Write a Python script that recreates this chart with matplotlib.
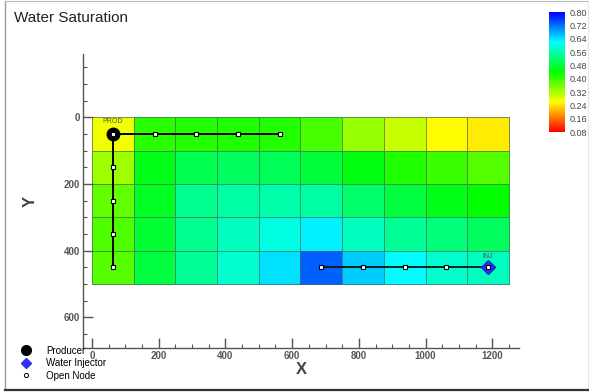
import numpy as np
import matplotlib
matplotlib.use("Agg")
import matplotlib.pyplot as plt
from matplotlib.colors import LinearSegmentedColormap
from matplotlib.lines import Line2D

# ---- data ----
x_edges = [0, 125, 250, 375, 500, 625, 750, 875, 1000, 1125, 1250]
y_edges = [0, 100, 200, 300, 400, 500]
sw = [
    [0.27, 0.41, 0.415, 0.42, 0.415, 0.39, 0.335, 0.30, 0.26, 0.246],
    [0.33, 0.455, 0.495, 0.505, 0.50, 0.48, 0.45, 0.42, 0.40, 0.38],
    [0.37, 0.465, 0.54, 0.555, 0.56, 0.555, 0.515, 0.485, 0.455, 0.44],
    [0.385, 0.475, 0.54, 0.575, 0.60, 0.63, 0.575, 0.545, 0.525, 0.505],
    [0.38, 0.485, 0.545, 0.585, 0.64, 0.73, 0.655, 0.62, 0.585, 0.575],
]
vmin, vmax = 0.08, 0.80
cbar_ticks = [0.08, 0.16, 0.24, 0.32, 0.40, 0.48, 0.56, 0.64, 0.72, 0.80]

prod_xy = (62.5, 50)
prod_h_nodes_x = [187.5, 312.5, 437.5, 562.5]
prod_v_nodes_y = [150, 250, 350, 450]
inj_xy = (1187.5, 450)
inj_nodes_x = [687.5, 812.5, 937.5, 1062.5]

x_ticks = [0, 200, 400, 600, 800, 1000, 1200]
y_ticks = [0, 200, 400, 600]

cmap = LinearSegmentedColormap.from_list(
    "rb", [(1, 0, 0), (1, 1, 0), (0, 1, 0), (0, 1, 1), (0, 0, 1)])

fig = plt.figure(figsize=(5.89, 3.92), dpi=100)
fig.patch.set_facecolor("white")

ax = fig.add_axes([83/589, 1-348/392, (519-83)/589, (348-54)/392])
mesh = ax.pcolormesh(x_edges, y_edges, np.array(sw), cmap=cmap, vmin=vmin, vmax=vmax,
                     edgecolors=(0.3, 0.4, 0.35, 0.7), linewidth=0.6)
ax.set_xlim(-27, 1280)
ax.set_ylim(692, -190)
ax.set_aspect("auto")

for s in ["top", "right"]:
    ax.spines[s].set_visible(False)
for s in ["left", "bottom"]:
    ax.spines[s].set_color("#555555")
    ax.spines[s].set_linewidth(1.0)

ax.set_xticks(x_ticks)
ax.set_yticks(y_ticks)
ax.set_xticks(np.arange(0, 1280, 50), minor=True)
ax.set_yticks(np.arange(-150, 692, 50), minor=True)
ax.tick_params(which="major", direction="in", length=7, width=1, color="#555555",
               labelsize=7, labelcolor="#555555", pad=2)
ax.tick_params(which="minor", direction="in", length=3, width=0.8, color="#555555")
for lab in ax.get_xticklabels() + ax.get_yticklabels():
    lab.set_fontweight("bold")
    lab.set_fontfamily("Liberation Sans")
ax.set_xlabel("X", fontsize=12, fontweight="bold", color="#444444",
              fontfamily="Liberation Sans", labelpad=1)
ax.set_ylabel("Y", fontsize=12, fontweight="bold", color="#444444",
              fontfamily="Liberation Sans", labelpad=19)

# producer well path
ax.plot([prod_xy[0], prod_h_nodes_x[-1]], [prod_xy[1], prod_xy[1]], color="black", lw=1.4, zorder=3)
ax.plot([prod_xy[0], prod_xy[0]], [prod_xy[1], prod_v_nodes_y[-1]], color="black", lw=1.4, zorder=3)
ax.plot(prod_h_nodes_x, [prod_xy[1]] * len(prod_h_nodes_x), ls="none", marker="s", ms=3.5,
        mfc="white", mec="black", mew=0.8, zorder=4)
ax.plot([prod_xy[0]] * len(prod_v_nodes_y), prod_v_nodes_y, ls="none", marker="s", ms=3.5,
        mfc="white", mec="black", mew=0.8, zorder=4)
ax.plot([prod_xy[0]], [prod_xy[1]], marker="o", ms=9, mfc="black", mec="black", zorder=5)
ax.plot([prod_xy[0]], [prod_xy[1]], marker="s", ms=3.5, mfc="white", mec="black", mew=0.8, zorder=6)
ax.text(prod_xy[0], prod_xy[1] - 28, "PROD", fontsize=5, color="#555555", ha="center",
        va="bottom", fontfamily="Liberation Sans")

# injector well path
ax.plot([inj_nodes_x[0], inj_xy[0]], [inj_xy[1], inj_xy[1]], color="#102020", lw=1.4, zorder=3)
ax.plot(inj_nodes_x, [inj_xy[1]] * len(inj_nodes_x), ls="none", marker="s", ms=3.5,
        mfc="white", mec="black", mew=0.8, zorder=4)
ax.plot([inj_xy[0]], [inj_xy[1]], marker="D", ms=7, mfc="#3030ee", mec="#2020cc", zorder=5)
ax.plot([inj_xy[0]], [inj_xy[1]], marker="s", ms=3.5, mfc="white", mec="black", mew=0.8, zorder=6)
ax.text(inj_xy[0], inj_xy[1] - 22, "INJ", fontsize=5, color="#555555", ha="center",
        va="bottom", fontfamily="Liberation Sans")

# colorbar
cax = fig.add_axes([549/589, 1-132/392, 16/589, 120/392])
cb = fig.colorbar(mesh, cax=cax, ticks=cbar_ticks)
cb.outline.set_visible(False)
cb.ax.tick_params(length=0, labelsize=6.5, labelcolor="#444444", pad=3)
cb.ax.set_yticklabels([f"{t:.2f}" for t in cbar_ticks])
for lab in cb.ax.get_yticklabels():
    lab.set_fontfamily("Liberation Sans")

# title
fig.text(14/589, 1-18/392, "Water Saturation", fontsize=11, color="#222222",
         ha="left", va="center", fontfamily="Liberation Sans")

# legend
handles = [
    Line2D([], [], ls="none", marker="o", ms=7, mfc="black", mec="black"),
    Line2D([], [], ls="none", marker="D", ms=5, mfc="#3030ee", mec="#3030ee"),
    Line2D([], [], ls="none", marker="o", ms=3, mfc="white", mec="black", mew=0.7),
]
fig.legend(handles, ["Producer", "Water Injector", "Open Node"], loc="upper left",
           bbox_to_anchor=(16/589, 1-342/392), frameon=False,
           prop={"family": "Liberation Sans", "size": 7},
           labelspacing=0.25, handletextpad=1.5, borderaxespad=0, handlelength=1.2)

# figure frame
fig.add_artist(Line2D([4.5/589, 4.5/589], [1-1/392, 1-390/392], color="#999999", lw=1))
fig.add_artist(Line2D([4.5/589, 588/589], [1-1/392, 1-1/392], color="#bbbbbb", lw=0.8))
fig.add_artist(Line2D([588/589, 588/589], [1-1/392, 1-390/392], color="#e5e5e5", lw=0.8))
fig.add_artist(Line2D([4.5/589, 588/589], [1-390/392, 1-390/392], color="#333333", lw=1.6))

fig.savefig("out.png", dpi=100)
